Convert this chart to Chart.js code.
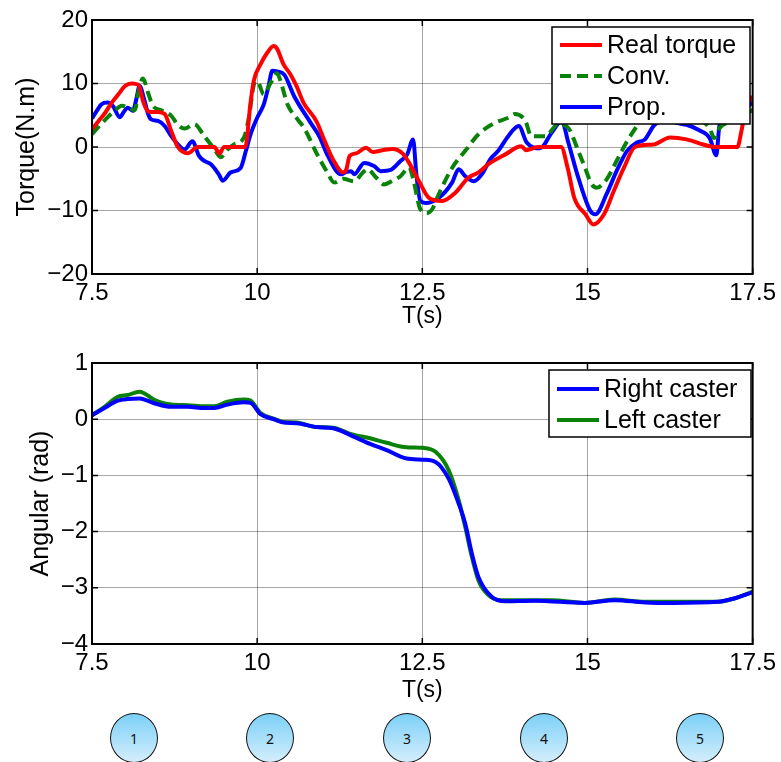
<!DOCTYPE html>
<html>
<head>
<meta charset="utf-8">
<script src="https://cdn.jsdelivr.net/npm/chart.js@4/dist/chart.umd.min.js"></script>
<style>
  html, body { margin: 0; padding: 0; background: #fff; }
  #page { position: relative; width: 781px; height: 762px; overflow: hidden; background: #fff; }
  canvas { position: absolute; left: 0; }
  #torqueChart { top: 0; }
  #angleChart { top: 332px; }
  .phase {
    position: absolute; top: 713px; width: 46px; height: 48px;
    border: 1.5px solid #111; border-radius: 50%;
    background: linear-gradient(to bottom, #7cd0f7, #d4eefc);
    font: 14px "Noto Sans", sans-serif; color: #111;
    display: flex; align-items: center; justify-content: center;
  }
</style>
</head>
<body>
<div id="page">
  <canvas id="torqueChart" width="781" height="330"></canvas>
  <canvas id="angleChart" width="781" height="372"></canvas>
</div>
<script>
// ---- torque estimates (time in s, torque in N.m) ----
const realT = [7.5, 7.6, 7.7, 7.8, 7.9, 8.0, 8.1, 8.2, 8.28, 8.35, 8.5, 8.6, 8.7, 8.8, 8.95, 9.1, 9.35, 9.43, 9.5, 9.82,
  9.9, 9.95, 10.05, 10.15, 10.25, 10.3, 10.4, 10.5, 10.6, 10.7, 10.9, 11.0, 11.15, 11.3, 11.35, 11.4, 11.5, 11.65, 11.75, 11.9,
  12.05, 12.2, 12.3, 12.45, 12.6, 12.8, 13.0, 13.2, 13.35, 13.5, 13.75, 14.0, 14.07, 14.25, 14.6, 14.7, 14.8, 14.97, 15.09, 15.25,
  15.4, 15.55, 15.72, 16.0, 16.25, 16.5, 16.75, 16.93, 17.27, 17.33, 17.4, 17.5];
const realV = [2.8, 4.1, 5.4, 7.0, 8.3, 9.6, 10.0, 9.8, 7.0, 5.6, 5.5, 5.2, 2.5, 0, -1.0, 0, 0, -1.0, 0, 0,
  7, 10.5, 13, 14.8, 15.9, 15.5, 13, 11.5, 9.5, 7, 4, 1.5, -2, -4.0, -3.5, -1.4, -1.0, -0.1, -0.8, -0.5,
  -0.3, -1.0, -2.5, -5.4, -8.0, -8.5, -7.2, -4.8, -4.0, -2.7, -1.2, 0.1, -0.5, 0, 0, -3.3, -8.0, -10.6, -12.2, -10.6,
  -6.9, -3.3, 0, 0.4, 1.5, 1.2, 0.4, 0, 0, 2.5, 6.2, 8.0];

const convT = [7.5, 7.6, 7.72, 7.85, 7.95, 8.05, 8.15, 8.2, 8.27, 8.35, 8.42, 8.55, 8.7, 8.8, 8.9, 9.05, 9.2, 9.35, 9.45, 9.55,
  9.65, 9.8, 9.88, 9.95, 10.0, 10.1, 10.2, 10.3, 10.35, 10.46, 10.6, 10.71, 10.91, 11.05, 11.17, 11.3, 11.47, 11.6, 11.67, 11.8,
  11.92, 12.05, 12.17, 12.3, 12.37, 12.47, 12.57, 12.65, 12.75, 12.95, 13.15, 13.35, 13.6, 13.8, 13.9, 14.06, 14.15, 14.36, 14.56, 14.71,
  14.86, 14.96, 15.06, 15.14, 15.29, 15.44, 15.6, 15.75, 15.9, 16.1, 16.3, 16.5, 16.7, 16.85, 16.92, 17.0, 17.15, 17.3, 17.5];
const convV = [2.0, 3.2, 4.5, 5.8, 6.5, 6.2, 5.8, 8.5, 10.8, 8.5, 6.5, 5.8, 4.9, 3.5, 2.9, 3.6, 1.7, -0.3, -1.6, -0.4,
  0.4, 1.5, 5, 9.8, 10.4, 8.3, 10, 11.6, 10.5, 6.7, 4.5, 3.0, -1.2, -3.8, -5.6, -5.0, -5.4, -4, -3.5, -4.8,
  -5.9, -5.3, -4.6, -3.2, -5.4, -9.8, -10.4, -9.8, -7.4, -3.3, -0.6, 2.0, 3.8, 4.6, 5.2, 4.1, 1.7, 1.7, 3.6, 3.0,
  -0.6, -3.2, -5.8, -6.4, -5.1, -2.2, 0.9, 3.3, 5.2, 6.0, 6.3, 5.8, 4.5, 2.9, 1.4, 3.0, 4.0, 4.8, 5.8];

const propT = [7.5, 7.58, 7.64, 7.74, 7.82, 7.92, 7.98, 8.04, 8.12, 8.17, 8.22, 8.29, 8.35, 8.39, 8.5, 8.6, 8.7, 8.8, 8.9, 9.02,
  9.12, 9.2, 9.3, 9.42, 9.48, 9.6, 9.75, 9.83, 9.9, 10.0, 10.1, 10.17, 10.23, 10.3, 10.41, 10.56, 10.81, 10.95, 11.06, 11.27,
  11.35, 11.42, 11.47, 11.62, 11.77, 11.87, 12.02, 12.17, 12.27, 12.36, 12.41, 12.47, 12.55, 12.75, 12.95, 13.05, 13.15, 13.28, 13.4, 13.53,
  13.65, 13.8, 13.96, 14.08, 14.28, 14.46, 14.61, 14.71, 14.86, 15.04, 15.12, 15.29, 15.44, 15.6, 15.75, 15.87, 16.0, 16.1, 16.2, 16.35,
  16.5, 16.7, 16.85, 16.95, 17.0, 17.15, 17.3, 17.5];
const propV = [4.5, 5.8, 6.7, 7.0, 6.4, 4.7, 5.5, 6.2, 5.7, 7.5, 9.6, 7.5, 5.2, 4.4, 4.1, 3.3, 1.7, 0.4, -0.4, 0.9,
  -1.4, -2.2, -2.7, -4.3, -5.3, -4.0, -3.3, -0.6, 2.0, 4.6, 6.7, 9.5, 12.0, 11.9, 11.4, 8.0, 3.8, 1.5, -1.2, -4.3,
  -3.9, -3.8, -4.3, -2.5, -3.0, -3.8, -3.6, -2.2, -1.2, 1.2, -4.3, -8.5, -8.8, -8.0, -5.6, -3.5, -4.6, -5.4, -4.3, -1.9,
  -0.6, 1.7, 3.3, 0.7, -0.2, 2.3, 4.1, 0.7, -4.8, -10.0, -10.6, -7.4, -3.8, -0.6, 0.7, 1.2, 3.3, 4.2, 4.6, 3.8,
  3.5, 2.6, 1.4, -1.3, 3.5, 4.6, 5.5, 7.0];

// ---- caster angles (rad) ----
const rightT = [7.5, 7.69, 7.89, 8.04, 8.22, 8.45, 8.7, 8.95, 9.2, 9.35, 9.55, 9.8, 9.9, 10.05, 10.25, 10.4, 10.6, 10.9, 11.15, 11.46,
  11.71, 11.96, 12.26, 12.51, 12.7, 12.9, 13.05, 13.15, 13.25, 13.35, 13.55, 13.75, 14.2, 14.96, 15.41, 15.87, 16.3, 16.97, 17.22, 17.5];
const rightV = [0.07, 0.2, 0.33, 0.36, 0.37, 0.28, 0.22, 0.22, 0.2, 0.2, 0.26, 0.3, 0.29, 0.09, 0.0, -0.06, -0.07, -0.14, -0.16, -0.31,
  -0.44, -0.55, -0.7, -0.72, -0.76, -1.06, -1.5, -1.86, -2.39, -2.81, -3.16, -3.24, -3.23, -3.27, -3.22, -3.26, -3.27, -3.25, -3.19, -3.08];

const leftT = [7.5, 7.69, 7.89, 8.04, 8.22, 8.45, 8.7, 8.95, 9.2, 9.35, 9.55, 9.8, 9.9, 10.05, 10.25, 10.4, 10.6, 10.9, 11.15, 11.41,
  11.71, 11.96, 12.26, 12.51, 12.7, 12.9, 13.05, 13.15, 13.25, 13.35, 13.5, 13.7, 14.46, 14.96, 15.41, 15.87, 16.97, 17.22, 17.5];
const leftV = [0.07, 0.22, 0.4, 0.43, 0.49, 0.34, 0.26, 0.25, 0.23, 0.23, 0.31, 0.35, 0.33, 0.11, 0.01, -0.05, -0.06, -0.14, -0.15, -0.26,
  -0.34, -0.42, -0.5, -0.51, -0.58, -0.91, -1.44, -1.92, -2.45, -2.87, -3.13, -3.22, -3.22, -3.27, -3.21, -3.25, -3.25, -3.19, -3.07];

const timeTicks = [7.5, 10, 12.5, 15, 17.5];
const phaseLabels = ['1', '2', '3', '4', '5'];

const pts = (t, v) => t.map((x, i) => ({ x, y: v[i] }));
const minus = v => String(v).replace('-', '\u2212');

// box around the plot with inward tick marks, then an opaque legend on top
const framePlugin = {
  id: 'frame',
  afterDatasetsDraw(chart, args, opts) {
    const { ctx, chartArea: a, scales } = chart;
    ctx.save();
    ctx.strokeStyle = '#000';
    ctx.lineWidth = 2;
    ctx.strokeRect(a.left, a.top, a.right - a.left, a.bottom - a.top);
    ctx.lineWidth = 1.5;
    ctx.beginPath();
    scales.x.ticks.forEach(t => {
      const px = scales.x.getPixelForValue(t.value);
      ctx.moveTo(px, a.bottom); ctx.lineTo(px, a.bottom - 6);
      ctx.moveTo(px, a.top); ctx.lineTo(px, a.top + 6);
    });
    scales.y.ticks.forEach(t => {
      const py = scales.y.getPixelForValue(t.value);
      ctx.moveTo(a.left, py); ctx.lineTo(a.left + 6, py);
      ctx.moveTo(a.right, py); ctx.lineTo(a.right - 6, py);
    });
    ctx.stroke();

    // legend
    const L = opts.legend;
    ctx.fillStyle = '#fff';
    ctx.fillRect(L.x, L.y, L.w, L.h);
    ctx.lineWidth = 1.5;
    ctx.strokeStyle = '#000';
    ctx.strokeRect(L.x, L.y, L.w, L.h);
    ctx.font = '25px "Liberation Sans", Arial, sans-serif';
    ctx.textBaseline = 'middle';
    chart.data.datasets.forEach((ds, i) => {
      const cy = L.y + L.first + i * L.rowH;
      ctx.strokeStyle = ds.borderColor;
      ctx.lineWidth = 4;
      ctx.setLineDash(ds.borderDash || []);
      ctx.beginPath();
      ctx.moveTo(L.x + 8, cy); ctx.lineTo(L.x + 50, cy);
      ctx.stroke();
      ctx.setLineDash([]);
      ctx.fillStyle = '#000';
      ctx.fillText(ds.label, L.x + 55, cy + 1);
    });
    ctx.restore();
  }
};

const tickFont = { family: '"Liberation Sans", Arial, sans-serif', size: 24 };
const gridStyle = { color: 'rgba(0,0,0,0.35)', lineWidth: 1, drawTicks: false };

function axes(yMin, yMax, yStep, yTitle, xHeight, yTitlePad) {
  return {
    x: {
      type: 'linear', min: 7.5, max: 17.5,
      afterBuildTicks: s => { s.ticks = timeTicks.map(v => ({ value: v })); },
      afterFit: s => { s.height = xHeight; },
      grid: gridStyle,
      border: { display: false },
      ticks: { color: '#000', font: tickFont, padding: 5, maxRotation: 0, callback: v => String(v) },
      title: { display: true, text: 'T(s)', color: '#000', padding: { top: 0, bottom: 0 },
        font: { family: '"Liberation Sans", Arial, sans-serif', size: 23 } }
    },
    y: {
      min: yMin, max: yMax,
      afterFit: s => { s.width = 92; },
      grid: gridStyle,
      border: { display: false },
      ticks: { stepSize: yStep, color: '#000', font: tickFont, padding: 4, callback: v => minus(v) },
      title: { display: true, text: yTitle, color: '#000', padding: { top: yTitlePad, bottom: 0 },
        font: { family: '"Liberation Sans", Arial, sans-serif', size: 25 } }
    }
  };
}

new Chart(document.getElementById('torqueChart'), {
  type: 'line',
  data: {
    datasets: [
      { label: 'Real torque', data: pts(realT, realV), borderColor: '#ff0000', borderWidth: 4 },
      { label: 'Conv.', data: pts(convT, convV), borderColor: '#0a820a', borderWidth: 4, borderDash: [11, 6] },
      { label: 'Prop.', data: pts(propT, propV), borderColor: '#0000ff', borderWidth: 4 }
    ]
  },
  options: {
    responsive: false,
    animation: false,
    layout: { padding: { left: 0, right: 24, top: 20, bottom: 0 } },
    elements: { point: { radius: 0 }, line: { tension: 0.3, cubicInterpolationMode: 'monotone' } },
    scales: axes(-20, 20, 10, 'Torque(N.m)', 56, 12),
    plugins: {
      legend: { display: false },
      tooltip: { enabled: false },
      frame: { legend: { x: 552, y: 27, w: 198, h: 97, first: 18, rowH: 31 } }
    }
  },
  plugins: [framePlugin]
});

new Chart(document.getElementById('angleChart'), {
  type: 'line',
  data: {
    datasets: [
      { label: 'Right caster', data: pts(rightT, rightV), borderColor: '#0000ff', borderWidth: 4 },
      { label: 'Left caster', data: pts(leftT, leftV), borderColor: '#0a820a', borderWidth: 4 }
    ]
  },
  options: {
    responsive: false,
    animation: false,
    layout: { padding: { left: 0, right: 24, top: 31, bottom: 0 } },
    elements: { point: { radius: 0 }, line: { tension: 0.3, cubicInterpolationMode: 'monotone' } },
    scales: axes(-4, 1, 1, 'Angular (rad)', 60, 26),
    plugins: {
      legend: { display: false },
      tooltip: { enabled: false },
      frame: { legend: { x: 549, y: 38, w: 202, h: 67, first: 19, rowH: 31 } }
    }
  },
  plugins: [framePlugin]
});

// numbered phase markers under the time axis
const phaseX = [134, 270, 407, 544, 700];
const page = document.getElementById('page');
phaseLabels.forEach((txt, i) => {
  const d = document.createElement('div');
  d.className = 'phase';
  d.style.left = (phaseX[i] - 24) + 'px';
  d.textContent = txt;
  page.appendChild(d);
});
</script>
</body>
</html>
